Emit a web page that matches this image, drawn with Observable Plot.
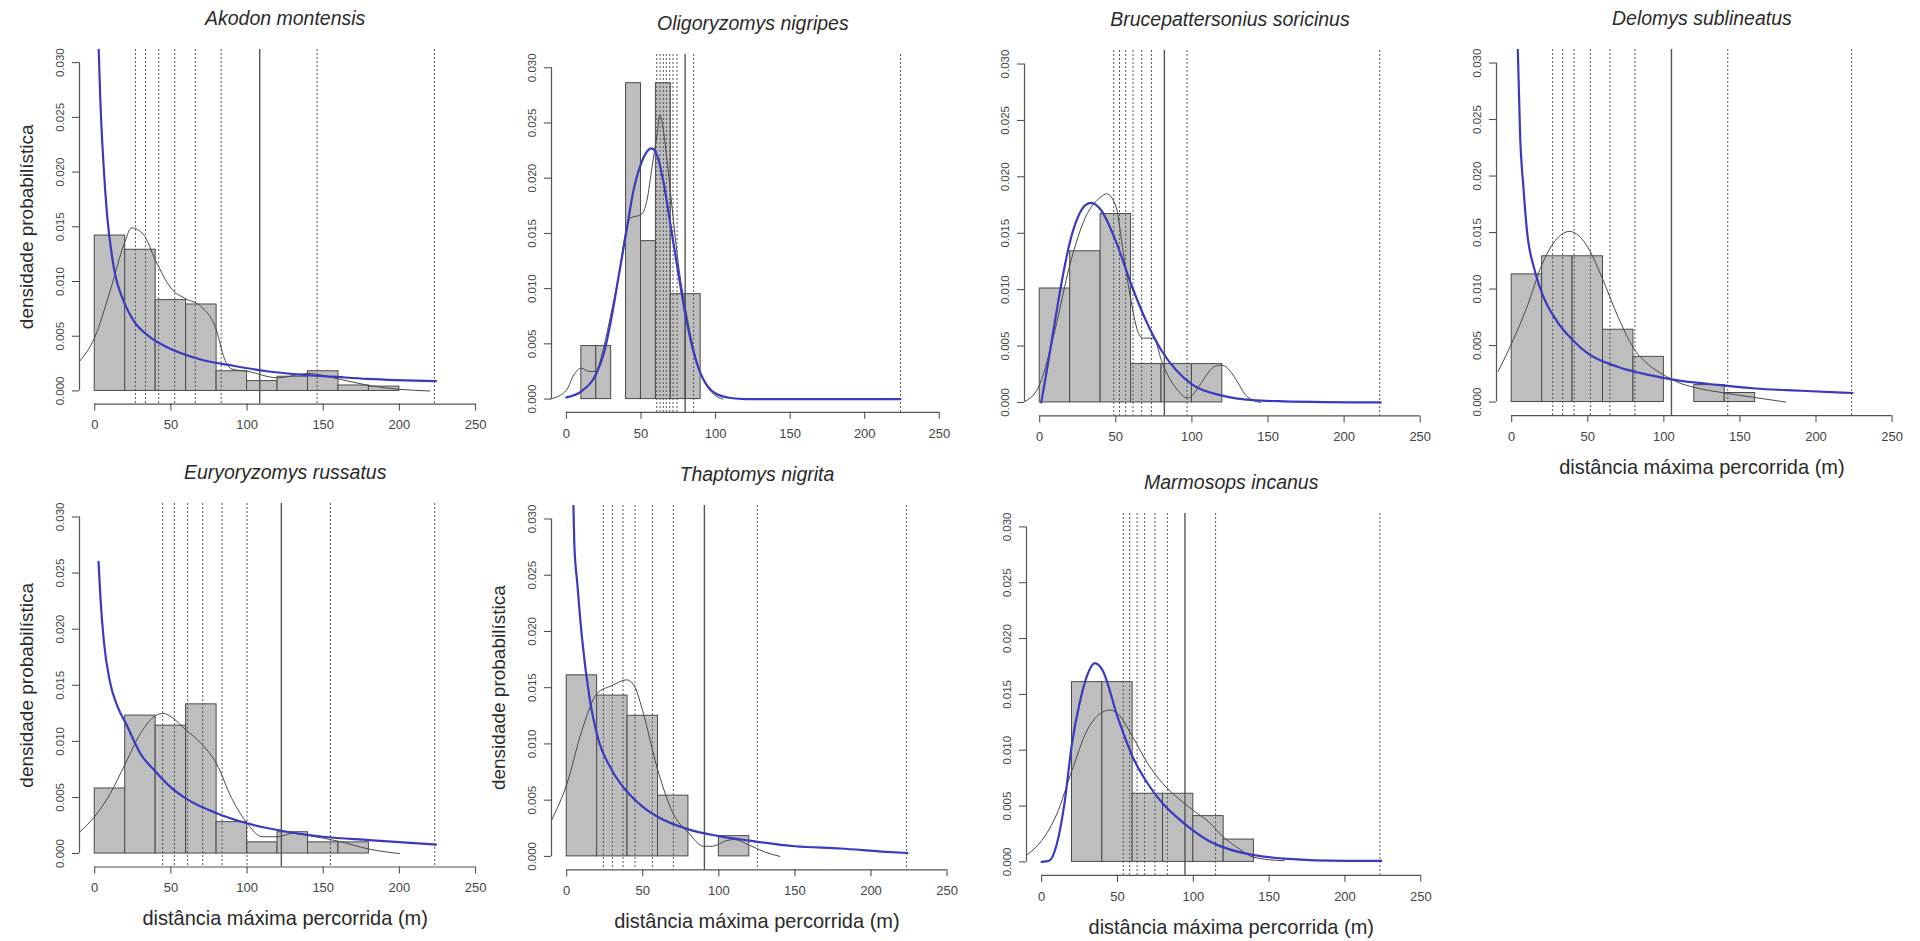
<!DOCTYPE html>
<html>
<head>
<meta charset="utf-8">
<script src="https://cdn.jsdelivr.net/npm/d3@7"></script>
<script src="https://cdn.jsdelivr.net/npm/@observablehq/plot@0.6"></script>
<style>
  html, body { margin: 0; padding: 0; background: #ffffff; }
  #chart { position: relative; width: 1920px; height: 941px; overflow: hidden; background: #ffffff;
           font-family: "Liberation Sans", Arial, Helvetica, sans-serif; }
</style>
</head>
<body>
<div id="chart"></div>
<script>
// ---------- shared axes ----------
const xTicks = [0, 50, 100, 150, 200, 250];
const yTicks = [0, 0.005, 0.010, 0.015, 0.020, 0.025, 0.030];
const xDomain = [-10, 260];
const yDomain = [-0.0012, 0.0312];
const yLabelText = "densidade probabilística";
const xLabelText = "distância máxima percorrida (m)";

// ---------- Akodon montensis ----------
const akodonHistStart = [0, 20, 40, 60, 80, 100, 120, 140, 160, 180];
const akodonHistDensity = [0.0142, 0.0129, 0.0083, 0.0079, 0.0018, 0.0009, 0.0013, 0.0018, 0.0005, 0.0004];
const akodonKdeX = [-10, 0, 10, 20, 24, 32, 40, 50, 60, 69, 80, 85, 90, 100, 120, 140, 160, 180, 200, 220];
const akodonKdeY = [0.0027, 0.0049, 0.0091, 0.0137, 0.0149, 0.0143, 0.0119, 0.0094, 0.0084, 0.0078, 0.0055, 0.0030, 0.0020, 0.0018, 0.0012, 0.0016, 0.0011, 0.0005, 0.00015, 0.0000];
const akodonFitX = [2.6, 3.7, 5.9, 8.1, 12.5, 19, 25.6, 36.5, 47.5, 69, 91, 113, 135, 157, 179, 224];
const akodonFitY = [0.0312, 0.0265, 0.0204, 0.0161, 0.0113, 0.0082, 0.0064, 0.0049, 0.0040, 0.0029, 0.0023, 0.0018, 0.0015, 0.0013, 0.0011, 0.0009];
const akodonDashed = [26.7, 33.3, 42, 52.5, 66, 83, 146, 223];
const akodonSolid = [108.3];

// ---------- Oligoryzomys nigripes ----------
const oligoHistStart = [10, 20, 40, 50, 60, 70, 80];
const oligoHistDensity = [0.0048, 0.0048, 0.0286, 0.0143, 0.0286, 0.0095, 0.0095];
const oligoKdeX = [-10.7, 0, 5, 10, 15, 19.5, 25, 30, 35, 40, 43, 50, 54, 57.4, 60.8, 62.6, 67.5, 70.8, 75, 80, 85, 90, 95, 100, 105];
const oligoKdeY = [0.0000, 0.0008, 0.0022, 0.0028, 0.0025, 0.0025, 0.0047, 0.0078, 0.0111, 0.0153, 0.0164, 0.0167, 0.0180, 0.0210, 0.0240, 0.0257, 0.0216, 0.0174, 0.0123, 0.0081, 0.0047, 0.0023, 0.0010, 0.0003, 0.0000];
const oligoFitX = [0, 10, 20, 25, 30, 35, 40, 45, 50, 57, 61, 65, 70, 75, 80, 85, 90, 95, 100, 110, 120, 224];
const oligoFitY = [0.00015, 0.0007, 0.0023, 0.0041, 0.0072, 0.0111, 0.0150, 0.0189, 0.0213, 0.0227, 0.0220, 0.0197, 0.0156, 0.0114, 0.0075, 0.0044, 0.0023, 0.0011, 0.0005, 0.0001, 0.0000, 0.0000];
const oligoDashed = [60.6, 62.8, 65, 67, 69.3, 71.5, 74.2, 85.3, 224];
const oligoSolid = [79.6];

// ---------- Brucepattersonius soricinus ----------
const bruceHistStart = [0, 20, 40, 60, 80, 100];
const bruceHistDensity = [0.0101, 0.0134, 0.0167, 0.0034, 0.0034, 0.0034];
const bruceKdeX = [-9.4, 0, 10, 20, 30, 40, 44, 50, 55, 60, 65, 68, 75, 80, 85, 90, 97, 100, 105, 110, 115, 120, 125, 130, 135, 140, 145];
const bruceKdeY = [0.0001, 0.0016, 0.0064, 0.0123, 0.0164, 0.0182, 0.0185, 0.0174, 0.0132, 0.0090, 0.0061, 0.0057, 0.0057, 0.0037, 0.0022, 0.0012, 0.0004, 0.0006, 0.0015, 0.0025, 0.0032, 0.0033, 0.0028, 0.0018, 0.0007, 0.0002, 0.0000];
const bruceFitX = [1, 5, 10, 15, 20, 25, 30, 34, 40, 50, 60, 70, 80, 90, 100, 120, 140, 160, 224];
const bruceFitY = [0.0000, 0.0031, 0.0072, 0.0111, 0.0143, 0.0164, 0.0175, 0.0177, 0.0171, 0.0143, 0.0105, 0.0072, 0.0046, 0.0028, 0.0016, 0.0006, 0.0002, 0.0001, 0.0000];
const bruceDashed = [48.6, 52.4, 56.5, 61.3, 67, 73.4, 96.8, 223.4];
const bruceSolid = [81.9];

// ---------- Delomys sublineatus ----------
const delomysHistStart = [0, 20, 40, 60, 80, 120, 140];
const delomysHistDensity = [0.0113, 0.0129, 0.0129, 0.0064, 0.0040, 0.0015, 0.0008];
const delomysKdeX = [-9, 0, 10, 20, 30, 38, 45, 50, 60, 70, 80, 90, 100, 110, 120, 140, 160, 180];
const delomysKdeY = [0.0027, 0.0052, 0.0084, 0.0122, 0.0145, 0.0151, 0.0146, 0.0137, 0.0108, 0.0075, 0.0048, 0.0033, 0.0024, 0.0017, 0.0013, 0.0008, 0.0004, 0.0000];
const delomysFitX = [4, 5.5, 7.7, 10, 15, 20, 30, 40, 50, 70, 90, 110, 130, 160, 190, 224];
const delomysFitY = [0.0312, 0.0237, 0.0190, 0.0152, 0.0117, 0.0096, 0.0071, 0.0055, 0.0043, 0.0031, 0.0024, 0.0019, 0.0016, 0.0012, 0.0010, 0.0008];
const delomysDashed = [26.9, 33.5, 41, 51.7, 64.6, 81, 142, 223.4];
const delomysSolid = [105];

// ---------- Euryoryzomys russatus ----------
const euryHistStart = [0, 20, 40, 60, 80, 100, 120, 140, 160];
const euryHistDensity = [0.0058, 0.0123, 0.0114, 0.0133, 0.0028, 0.0010, 0.0019, 0.0010, 0.0010];
const euryKdeX = [-10, 0, 10, 20, 30, 40, 45, 50, 60, 70, 80, 90, 100, 110, 120, 130, 140, 160, 180, 200];
const euryKdeY = [0.0019, 0.0033, 0.0053, 0.0080, 0.0107, 0.0123, 0.0125, 0.0122, 0.0110, 0.0098, 0.0080, 0.0049, 0.0027, 0.0015, 0.0015, 0.0018, 0.0016, 0.0011, 0.0004, 0.0000];
const euryFitX = [2.5, 3.7, 6, 10, 15, 20.8, 30, 40, 50, 60, 80, 100, 120, 150, 180, 224];
const euryFitY = [0.0260, 0.0229, 0.0189, 0.0153, 0.0131, 0.0115, 0.0089, 0.0073, 0.0059, 0.0049, 0.0036, 0.0027, 0.0021, 0.0015, 0.0012, 0.0008];
const euryDashed = [44.6, 52.3, 61, 70.9, 83.6, 100, 154.7, 223.2];
const eurySolid = [122.5];

// ---------- Thaptomys nigrita ----------
const thapHistStart = [0, 20, 40, 60, 100];
const thapHistDensity = [0.0161, 0.0143, 0.0125, 0.0054, 0.0018];
const thapKdeX = [-10, 0, 10, 20, 30, 39.4, 45, 50, 60, 70, 80, 90, 96, 105, 110, 120, 130, 140];
const thapKdeY = [0.0032, 0.0064, 0.0112, 0.0145, 0.0152, 0.0157, 0.0150, 0.0129, 0.0076, 0.0038, 0.0021, 0.0009, 0.0009, 0.0014, 0.0015, 0.0010, 0.0004, 0.0000];
const thapFitX = [4.4, 5, 7, 10, 15, 20, 30, 40, 50, 60, 80, 100, 120, 150, 180, 210, 224];
const thapFitY = [0.0312, 0.0278, 0.0242, 0.0195, 0.0141, 0.0108, 0.0076, 0.0057, 0.0044, 0.0035, 0.0024, 0.0018, 0.0014, 0.0009, 0.0007, 0.0004, 0.0003];
const thapDashed = [24.1, 30, 37, 44.9, 56.3, 70.1, 125.3, 223.4];
const thapSolid = [90.5];

// ---------- Marmosops incanus ----------
const marmHistStart = [20, 40, 60, 80, 100, 120];
const marmHistDensity = [0.0161, 0.0161, 0.0061, 0.0061, 0.0041, 0.0020];
const marmKdeX = [-10, 0, 10, 20, 30, 40, 45, 50, 60, 70, 80, 90, 100, 110, 120, 130, 140, 160];
const marmKdeY = [0.0006, 0.0019, 0.0043, 0.0082, 0.0118, 0.0134, 0.0136, 0.0133, 0.0112, 0.0088, 0.0070, 0.0057, 0.0046, 0.0036, 0.0022, 0.0012, 0.0004, 0.0001];
const marmFitX = [0, 5, 10, 15, 20, 25, 30, 35, 40, 50, 60, 70, 80, 90, 100, 110, 120, 140, 160, 200, 224];
const marmFitY = [0.0000, 0.0001, 0.0016, 0.0052, 0.0106, 0.0142, 0.0167, 0.0178, 0.0172, 0.0130, 0.0094, 0.0070, 0.0052, 0.0039, 0.0028, 0.0019, 0.0013, 0.0006, 0.0003, 0.0001, 0.0001];
const marmDashed = [53.8, 58, 62.9, 67.9, 74.7, 82.9, 114.7, 223];
const marmSolid = [94.5];

// ---------- panels ----------
const species = [
  {title: "Akodon montensis", binWidth: 20, histStart: akodonHistStart, histDensity: akodonHistDensity, kdeX: akodonKdeX, kdeY: akodonKdeY, fitX: akodonFitX, fitY: akodonFitY, dashed: akodonDashed, solid: akodonSolid},
  {title: "Oligoryzomys nigripes", binWidth: 10, histStart: oligoHistStart, histDensity: oligoHistDensity, kdeX: oligoKdeX, kdeY: oligoKdeY, fitX: oligoFitX, fitY: oligoFitY, dashed: oligoDashed, solid: oligoSolid},
  {title: "Brucepattersonius soricinus", binWidth: 20, histStart: bruceHistStart, histDensity: bruceHistDensity, kdeX: bruceKdeX, kdeY: bruceKdeY, fitX: bruceFitX, fitY: bruceFitY, dashed: bruceDashed, solid: bruceSolid},
  {title: "Delomys sublineatus", binWidth: 20, histStart: delomysHistStart, histDensity: delomysHistDensity, kdeX: delomysKdeX, kdeY: delomysKdeY, fitX: delomysFitX, fitY: delomysFitY, dashed: delomysDashed, solid: delomysSolid},
  {title: "Euryoryzomys russatus", binWidth: 20, histStart: euryHistStart, histDensity: euryHistDensity, kdeX: euryKdeX, kdeY: euryKdeY, fitX: euryFitX, fitY: euryFitY, dashed: euryDashed, solid: eurySolid},
  {title: "Thaptomys nigrita", binWidth: 20, histStart: thapHistStart, histDensity: thapHistDensity, kdeX: thapKdeX, kdeY: thapKdeY, fitX: thapFitX, fitY: thapFitY, dashed: thapDashed, solid: thapSolid},
  {title: "Marmosops incanus", binWidth: 20, histStart: marmHistStart, histDensity: marmHistDensity, kdeX: marmKdeX, kdeY: marmKdeY, fitX: marmFitX, fitY: marmFitY, dashed: marmDashed, solid: marmSolid}
];

// layout: pixel positions of x=0, x=200, y=0, y=0.03 for each panel
const layout = [
  {x0: 94.33,  x200: 399.0,  y0: 390.0, y03: 61.67,  showY: true,  showX: false},
  {x0: 566.0,  x200: 864.3,  y0: 399.0, y03: 67.67,  showY: false, showX: false},
  {x0: 1039.3, x200: 1343.7, y0: 401.7, y03: 63.3,   showY: false, showX: false},
  {x0: 1511.7, x200: 1816.0, y0: 401.7, y03: 62.7,   showY: false, showX: true},
  {x0: 94.33,  x200: 399.0,  y0: 853.3, y03: 516.7,  showY: true,  showX: true},
  {x0: 566.7,  x200: 871.0,  y0: 855.7, y03: 518.3,  showY: true,  showX: true},
  {x0: 1041.0, x200: 1344.3, y0: 861.7, y03: 526.7,  showY: false, showX: true}
];

const chart = document.getElementById("chart");
const FONT = '"Liberation Sans", Arial, Helvetica, sans-serif';

species.forEach((sp, i) => {
  const g = layout[i];
  const k = (g.x200 - g.x0) / 200;
  const s = (g.y0 - g.y03) / 0.03;
  const left = g.x0 + xDomain[0] * k;
  const right = g.x0 + xDomain[1] * k;
  const top = g.y0 - yDomain[1] * s;
  const bottom = g.y0 - yDomain[0] * s;
  const mL = 80, mR = 10, mT = 50, mB = 75;
  const W = right - left + mL + mR;
  const H = bottom - top + mT + mB;

  const hist = sp.histStart.map((x, j) => ({x1: x, x2: x + sp.binWidth, y: sp.histDensity[j]}));
  const kde = sp.kdeX.map((x, j) => ({x, y: sp.kdeY[j]}));
  const fit = sp.fitX.map((x, j) => ({x, y: sp.fitY[j]}));

  const marks = [
    Plot.rect(hist, {x1: "x1", x2: "x2", y1: 0, y2: "y", fill: "#bebebe", stroke: "#4a4a4a", strokeWidth: 1}),
    Plot.ruleX(sp.dashed, {stroke: "#555", strokeWidth: 1, strokeDasharray: "2,2"}),
    Plot.ruleX(sp.solid, {stroke: "#555", strokeWidth: 1.4}),
    Plot.line(kde, {x: "x", y: "y", stroke: "#484848", strokeWidth: 1, curve: "monotone-x"}),
    Plot.line(fit, {x: "x", y: "y", stroke: "#3a3ac0", strokeWidth: 2.2, curve: "monotone-x", clip: true}),
    Plot.ruleY([yDomain[0]], {x1: xTicks[0], x2: xTicks[xTicks.length - 1], stroke: "#555", strokeWidth: 1.2}),
    Plot.ruleX([xDomain[0]], {y1: yTicks[0], y2: yTicks[yTicks.length - 1], stroke: "#555", strokeWidth: 1.2}),
    Plot.axisX({ticks: xTicks, anchor: "bottom", tickSize: 7, tickPadding: 9, fontSize: 13, tickFormat: d => String(d), label: null}),
    Plot.axisY({ticks: yTicks, anchor: "left", tickSize: 7, tickPadding: 9, tickRotate: -90, fontSize: 11.5, tickFormat: d3.format(".3f"), label: null}),
    Plot.text([sp.title], {text: d => d, frameAnchor: "top", dy: -24.5, lineAnchor: "bottom", fontSize: 19.5, fontStyle: "italic", fill: "#2a2a2a"})
  ];
  if (g.showY) {
    marks.push(Plot.text([yLabelText], {text: d => d, frameAnchor: "left", dx: -53, rotate: -90, textAnchor: "middle", lineAnchor: "middle", fontSize: 19, fill: "#2a2a2a"}));
  }
  if (g.showX) {
    marks.push(Plot.text([xLabelText], {text: d => d, frameAnchor: "bottom", dy: 52, lineAnchor: "middle", fontSize: 20, fill: "#2a2a2a"}));
  }

  const svg = Plot.plot({
    width: W,
    height: H,
    marginLeft: mL,
    marginRight: mR,
    marginTop: mT,
    marginBottom: mB,
    x: {domain: xDomain},
    y: {domain: yDomain},
    style: {
      position: "absolute",
      left: (left - mL) + "px",
      top: (top - mT) + "px",
      background: "transparent",
      overflow: "visible",
      fontFamily: FONT,
      color: "#444",
      maxWidth: "none"
    },
    marks
  });
  chart.appendChild(svg);
});
</script>
</body>
</html>
